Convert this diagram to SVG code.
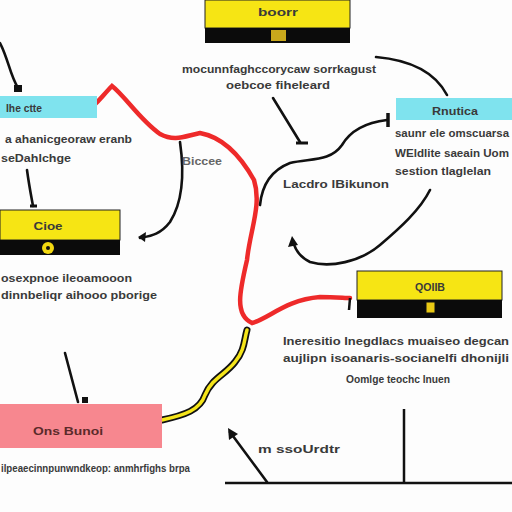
<svg xmlns="http://www.w3.org/2000/svg" width="512" height="512" viewBox="0 0 512 512">
<style>
.t{font-family:"Liberation Sans",Arial,sans-serif;font-weight:bold;fill:#3a3a3a;}
.b{font-size:11.5px;}
.h{font-size:10.5px;}
.k{fill:none;stroke:#111;stroke-width:2.6;stroke-linecap:round;}
</style>
<rect width="512" height="512" fill="#fdfdfd"/>
<g id="connectors">
<path class="k" d="M0,43 C8,58 10,75 18,88"/>
<rect x="14" y="85" width="8" height="7" fill="#111"/>
<path d="M86,111 C96,106 102,96 112,86 C125,96 140,120 160,134 C175,142 185,136 200,133 C222,137 240,155 254,180 C262,205 250,230 247,260 C240,290 234,315 252,323 C270,318 285,300 320,297 C335,297 345,298 350,298" fill="none" stroke="#ee2a2a" stroke-width="4.5" stroke-linecap="round"/>
<line x1="350" y1="298" x2="349" y2="310" stroke="#111" stroke-width="2.5"/>
<path class="k" d="M180,142 C184,170 184,200 170,222 C160,235 150,236 140,238"/>
<path d="M138,237 L146,232 L145,242 Z" fill="#111"/>
<path class="k" d="M273,98 L300,142"/>
<line x1="296" y1="143" x2="308" y2="143" stroke="#111" stroke-width="3"/>
<path class="k" d="M260,205 C262,185 272,170 290,163 C310,158 330,162 342,145 C352,128 370,122 387,120"/>
<line x1="388" y1="113" x2="388" y2="127" stroke="#111" stroke-width="3.5"/>
<path class="k" d="M430,190 C420,210 400,228 380,245 C360,262 330,268 310,262 C300,257 295,250 293,241"/>
<path d="M292,236 L288,247 L298,245 Z" fill="#111"/>
<path class="k" d="M376,57 C410,60 435,72 447,95"/>
<path class="k" d="M27,170 C29,185 31,195 33,206"/>
<line x1="30" y1="206" x2="37" y2="206" stroke="#111" stroke-width="3"/>
<path class="k" d="M65,353 L78,402"/>
<rect x="82" y="397" width="6" height="6" fill="#111"/>
<path d="M162,420 C185,415 200,410 205,395 C212,378 225,375 235,362 C245,350 244,340 247,330" fill="none" stroke="#111" stroke-width="7" stroke-linecap="round"/>
<path d="M162,420 C185,415 200,410 205,395 C212,378 225,375 235,362 C245,350 244,340 247,330" fill="none" stroke="#f5e51a" stroke-width="3.5" stroke-linecap="round"/>
<path class="k" d="M267,482 L230,432"/>
<path d="M228,428 L229,440 L238,434 Z" fill="#111"/>
<line x1="225" y1="483" x2="512" y2="483" stroke="#111" stroke-width="2.5"/>
<line x1="404" y1="409" x2="404" y2="483" stroke="#111" stroke-width="2.5"/>
</g>
<g id="node-top">
<rect x="205" y="0" width="145" height="28" fill="#f6e514" stroke="#222" stroke-width="1"/>
<rect x="205" y="28" width="145" height="15" fill="#0b0b0b"/>
<rect x="271" y="30" width="15" height="11" fill="#c9a81c"/>
<text class="t h" x="278" y="16" text-anchor="middle" textLength="40" lengthAdjust="spacingAndGlyphs">boorr</text>
<text class="t b" x="182" y="73" textLength="194" lengthAdjust="spacingAndGlyphs">mocunnfaghccorycaw sorrkagust</text>
<text class="t b" x="226" y="89" textLength="104" lengthAdjust="spacingAndGlyphs">oebcoe fiheleard</text>
</g>
<g id="node-left-cyan">
<rect x="0" y="96" width="97" height="22" fill="#7fe3ee"/>
<text class="t h" x="6" y="112" textLength="36" lengthAdjust="spacingAndGlyphs">Ihe ctte</text>
<text class="t b" x="5" y="143" textLength="127" lengthAdjust="spacingAndGlyphs">a ahanicgeoraw eranb</text>
<text class="t b" x="1" y="162" textLength="70" lengthAdjust="spacingAndGlyphs">seDahlchge</text>
</g>
<g id="node-right-cyan">
<rect x="396" y="98" width="116" height="22" fill="#7fe3ee"/>
<text class="t h" x="432" y="115" textLength="46" lengthAdjust="spacingAndGlyphs">Rnutica</text>
<text class="t b" x="395" y="137" textLength="114" lengthAdjust="spacingAndGlyphs">saunr ele omscuarsa</text>
<text class="t b" x="395" y="157" textLength="114" lengthAdjust="spacingAndGlyphs">WEldlite saeain Uom</text>
<text class="t b" x="395" y="175" textLength="96" lengthAdjust="spacingAndGlyphs">sestion tlaglelan</text>
</g>
<g id="node-center">
<text class="t b" x="283" y="188" textLength="106" lengthAdjust="spacingAndGlyphs">Lacdro lBikunon</text>
<text class="t b" x="182" y="165" textLength="40" lengthAdjust="spacingAndGlyphs" style="fill:#666">Biccee</text>
</g>
<g id="node-left-yellow">
<rect x="0" y="210" width="120" height="30" fill="#f6e514" stroke="#222" stroke-width="1"/>
<rect x="0" y="240" width="120" height="15" fill="#0b0b0b"/>
<circle cx="48" cy="248" r="6" fill="#f2d810"/>
<circle cx="48" cy="248" r="2" fill="#111"/>
<text class="t h" x="48" y="230" text-anchor="middle" textLength="29" lengthAdjust="spacingAndGlyphs">Cioe</text>
<text class="t b" x="1" y="282" textLength="131" lengthAdjust="spacingAndGlyphs">osexpnoe ileoamooon</text>
<text class="t b" x="1" y="299" textLength="156" lengthAdjust="spacingAndGlyphs">dinnbeliqr aihooo pborige</text>
</g>
<g id="node-right-yellow">
<rect x="357" y="271" width="145" height="29" fill="#f6e514" stroke="#222" stroke-width="1"/>
<rect x="357" y="300" width="145" height="18" fill="#0b0b0b"/>
<rect x="426" y="302" width="9" height="11" fill="#e9c914" stroke="#111" stroke-width="1"/>
<text class="t h" x="430" y="291" text-anchor="middle" textLength="30" lengthAdjust="spacingAndGlyphs">QOIIB</text>
<text class="t b" x="283" y="345" textLength="226" lengthAdjust="spacingAndGlyphs">Ineresitio Inegdlacs muaiseo degcan</text>
<text class="t b" x="283" y="362" textLength="226" lengthAdjust="spacingAndGlyphs">aujlipn isoanaris-socianelfi dhonijli</text>
<text class="t b" x="346" y="383" textLength="104" lengthAdjust="spacingAndGlyphs">Oomlge teochc lnuen</text>
</g>
<g id="node-pink">
<rect x="0" y="404" width="162" height="44" fill="#f7878f"/>
<text class="t h" x="33" y="435" textLength="70" lengthAdjust="spacingAndGlyphs" style="fill:#5a2a2a">Ons Bunoi</text>
<text class="t b" x="1" y="472" textLength="189" lengthAdjust="spacingAndGlyphs">ilpeaecinnpunwndkeop: anmhrfighs brpa</text>
</g>
<g id="node-bottom">
<text class="t b" x="258" y="453" textLength="82" lengthAdjust="spacingAndGlyphs">m ssoUrdtr</text>
</g>
</svg>
